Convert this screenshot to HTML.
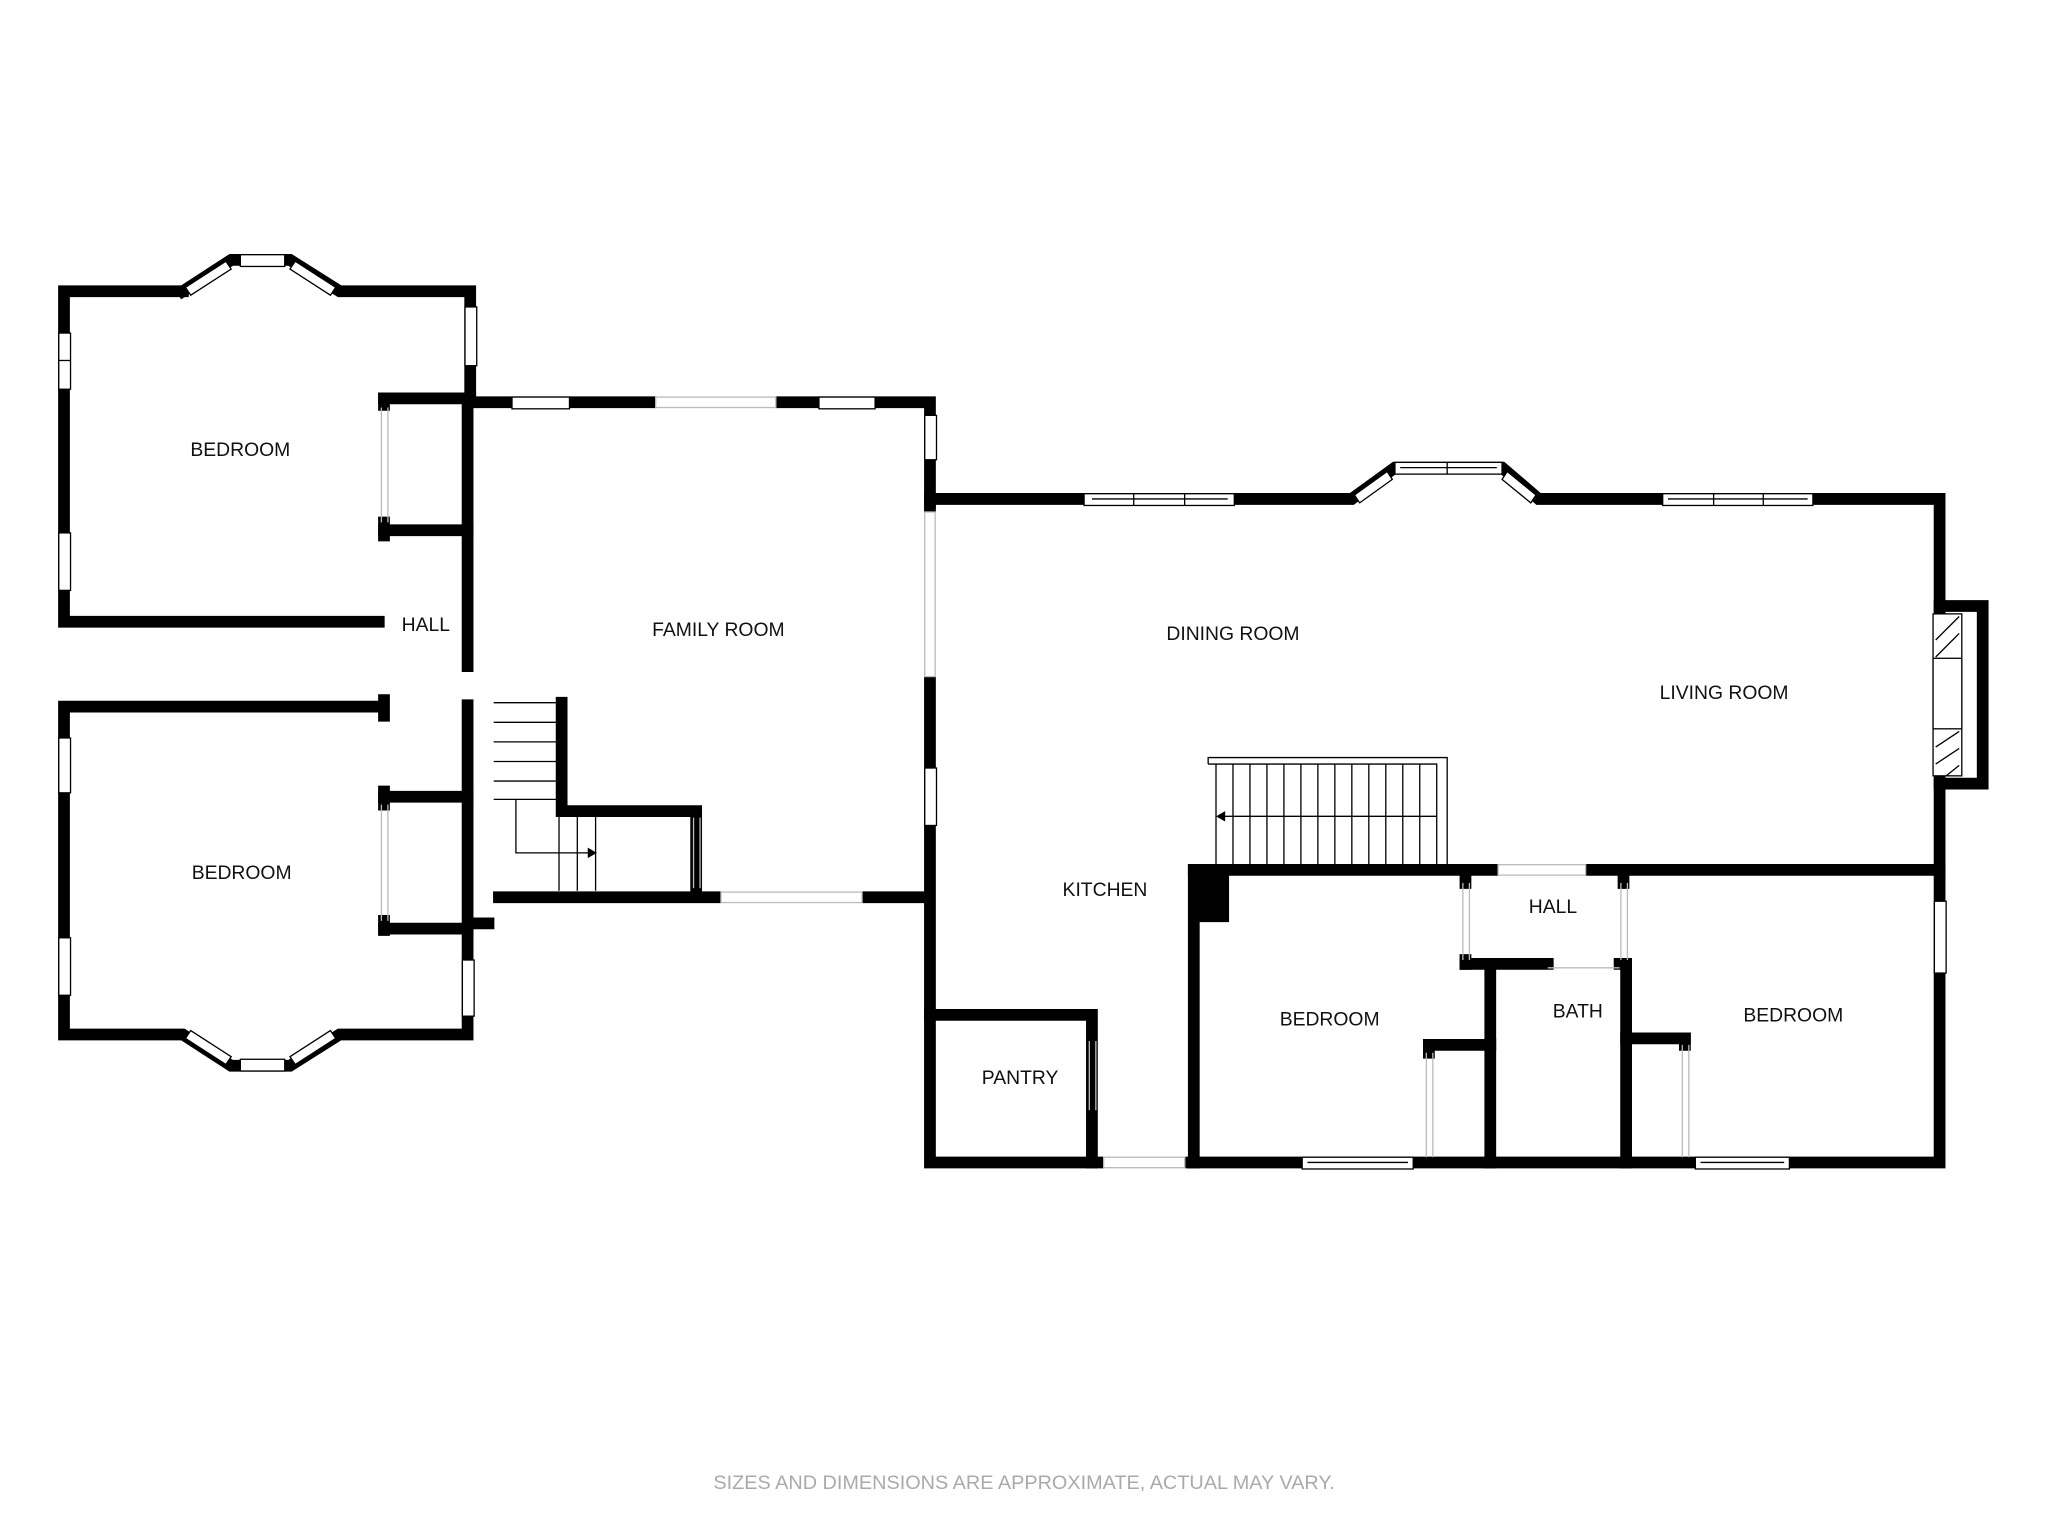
<!DOCTYPE html>
<html><head><meta charset="utf-8"><style>
html,body{margin:0;padding:0;background:#fff}
svg{display:block}
text{font-family:"Liberation Sans",sans-serif;font-size:14.8px;fill:#111;text-anchor:middle}
</style></head><body>
<svg width="2048" height="1536" viewBox="0 0 1568 1176" xmlns="http://www.w3.org/2000/svg">
<g stroke="#000" stroke-width="9" fill="none" stroke-linecap="square" stroke-linejoin="miter">
<polyline points="140,223 49,223 49,476 290,476"/>
<polyline points="140,223 177,199 222,199 260,223 360,223 360,305"/>
<line x1="294" y1="305" x2="360" y2="305"/>
<line x1="294" y1="406" x2="358" y2="406"/>
<line x1="294" y1="305" x2="294" y2="310"/>
<line x1="294" y1="400" x2="294" y2="410"/>
<line x1="358" y1="305" x2="358" y2="510"/>
<line x1="358" y1="540" x2="358" y2="710"/>
<polyline points="290,541 49,541 49,792 140,792 177,816 222,816 260,792 358,792 358,712"/>
<line x1="294" y1="536" x2="294" y2="548"/>
<line x1="294" y1="606" x2="294" y2="616"/>
<line x1="294" y1="705" x2="294" y2="712"/>
<line x1="294" y1="610" x2="358" y2="610"/>
<line x1="294" y1="711" x2="358" y2="711"/>
<line x1="360" y1="707" x2="374" y2="707"/>
<polyline points="364,308 712,308 712,385"/>
<line x1="382" y1="687" x2="708" y2="687"/>
<polyline points="430,538 430,621 533,621 533,682"/>
<polyline points="712,385 712,890 842,890"/>
<polyline points="712,382 1035,382 1068,358 1150,358 1178,382 1485,382 1485,890 912,890"/>
<polyline points="1485,464 1518,464 1518,600 1485,600"/>
<polyline points="712,777 836,777 836,890"/>
<line x1="914" y1="666" x2="1145" y2="666"/>
<line x1="1214" y1="666" x2="1485" y2="666"/>
<line x1="914" y1="666" x2="914" y2="890"/>
<line x1="1122" y1="666" x2="1122" y2="676"/>
<line x1="1243" y1="666" x2="1243" y2="676"/>
<line x1="1122" y1="735" x2="1122" y2="738"/>
<line x1="1122" y1="738" x2="1185" y2="738"/>
<line x1="1240" y1="738" x2="1245" y2="738"/>
<line x1="1141" y1="738" x2="1141" y2="890"/>
<line x1="1245" y1="738" x2="1245" y2="890"/>
<line x1="1094" y1="800" x2="1141" y2="800"/>
<line x1="1094" y1="800" x2="1094" y2="806"/>
<line x1="1245" y1="795" x2="1290" y2="795"/>
<line x1="1290" y1="795" x2="1290" y2="800"/>
</g>
<rect x="911" y="662" width="30" height="44" fill="#000"/>
<g fill="#fff">
<rect x="502" y="302" width="92" height="12"/>
<rect x="706" y="392" width="12" height="126"/>
<rect x="552" y="681" width="108" height="12"/>
<rect x="845" y="884" width="62" height="12"/>
<rect x="1147" y="660" width="67" height="12"/>
</g>
<g fill="none" stroke="#bbb" stroke-width="1">
<rect x="502" y="304" width="92" height="8"/>
<rect x="708" y="392" width="8" height="126"/>
<rect x="552" y="683" width="108" height="8"/>
<rect x="845" y="886" width="62" height="8"/>
<rect x="1147" y="662" width="67" height="8"/>
<line x1="292" y1="312" x2="292" y2="400"/><line x1="297" y1="312" x2="297" y2="400"/>
<line x1="292" y1="616" x2="292" y2="705"/><line x1="297" y1="616" x2="297" y2="705"/>
<line x1="1120" y1="676" x2="1120" y2="735"/><line x1="1125" y1="676" x2="1125" y2="735"/>
<line x1="1241" y1="676" x2="1241" y2="735"/><line x1="1246" y1="676" x2="1246" y2="735"/>
<line x1="1185" y1="741" x2="1240" y2="741"/>
<line x1="1092" y1="806" x2="1092" y2="886"/><line x1="1097" y1="806" x2="1097" y2="886"/>
<line x1="1288" y1="800" x2="1288" y2="886"/><line x1="1293" y1="800" x2="1293" y2="886"/>
<line x1="834" y1="797" x2="834" y2="850"/><line x1="839" y1="797" x2="839" y2="850"/>
<line x1="531" y1="626" x2="531" y2="680"/><line x1="536" y1="626" x2="536" y2="680"/>
</g>
<g fill="#fff" stroke="#000" stroke-width="1">
<rect x="45" y="255" width="9" height="43"/><rect x="45" y="408" width="9" height="44"/>
<rect x="356" y="235" width="9" height="45"/>
<rect x="45" y="565" width="9" height="42"/><rect x="45" y="718" width="9" height="44"/>
<rect x="354" y="735" width="9" height="43"/>
<rect x="392" y="304" width="44" height="9"/><rect x="627" y="304" width="43" height="9"/>
<rect x="708" y="318" width="9" height="34"/>
<rect x="708" y="588" width="9" height="44"/>
<rect x="830" y="378" width="115" height="9"/>
<rect x="1068" y="354" width="82" height="9"/>
<rect x="1273" y="378" width="115" height="9"/>
<rect x="1481" y="690" width="9" height="55"/>
<rect x="997" y="886" width="85" height="9"/>
<rect x="1298" y="886" width="72" height="9"/>
<rect x="184" y="195" width="34" height="9"/><rect x="184" y="811" width="34" height="9"/>
<rect x="1480" y="470" width="22" height="124"/>
</g>
<g stroke="#000" stroke-width="1">
<line x1="45" y1="276" x2="54" y2="276"/><line x1="836" y1="382" x2="940" y2="382"/>
<line x1="1072" y1="358" x2="1146" y2="358"/><line x1="1277" y1="382" x2="1384" y2="382"/>
<line x1="1001" y1="890" x2="1078" y2="890"/><line x1="1302" y1="890" x2="1366" y2="890"/>
<line x1="868" y1="378" x2="868" y2="387"/><line x1="907" y1="378" x2="907" y2="387"/>
<line x1="1108" y1="354" x2="1108" y2="363"/><line x1="1312" y1="378" x2="1312" y2="387"/><line x1="1350" y1="378" x2="1350" y2="387"/>
</g>
<g fill="#fff" stroke="#000" stroke-width="1">
<polygon points="142,220 173,200 177,206 146,226"/>
<polygon points="226,200 257,220 253,226 222,206"/>
<polygon points="142,795 173,815 177,809 146,789"/>
<polygon points="226,815 257,795 253,789 222,809"/>
<polygon points="1037,379 1062,361 1066,367 1041,385"/>
<polygon points="1154,361 1176,379 1172,385 1150,367"/>
</g>
<rect x="1480" y="504" width="22" height="54" fill="#fff" stroke="#000" stroke-width="1"/>
<g stroke="#000" stroke-width="1">
<line x1="1482" y1="490" x2="1500" y2="472"/><line x1="1482" y1="503" x2="1500" y2="485"/>
<line x1="1482" y1="572" x2="1500" y2="560"/><line x1="1482" y1="585" x2="1500" y2="573"/>
<line x1="1490" y1="594" x2="1500" y2="586"/>
</g>
<g stroke="#000" stroke-width="1" fill="none">
<polyline points="378,538 428,538 428,622"/>
<line x1="378" y1="553" x2="428" y2="553"/><line x1="378" y1="568" x2="428" y2="568"/>
<line x1="378" y1="583" x2="428" y2="583"/><line x1="378" y1="598" x2="428" y2="598"/>
<line x1="378" y1="612" x2="428" y2="612"/>
<polyline points="395,612 395,653 452,653"/>
<line x1="428" y1="625" x2="428" y2="682"/><line x1="442" y1="625" x2="442" y2="682"/><line x1="456" y1="625" x2="456" y2="682"/>
<polyline points="925,585 925,580 1108,580 1108,664"/>
<polyline points="925,585 1100,585 1100,664"/>
<line x1="931" y1="585" x2="931" y2="664"/>
<line x1="944" y1="585" x2="944" y2="664"/><line x1="957" y1="585" x2="957" y2="664"/>
<line x1="970" y1="585" x2="970" y2="664"/><line x1="983" y1="585" x2="983" y2="664"/>
<line x1="996" y1="585" x2="996" y2="664"/><line x1="1009" y1="585" x2="1009" y2="664"/>
<line x1="1022" y1="585" x2="1022" y2="664"/><line x1="1035" y1="585" x2="1035" y2="664"/>
<line x1="1048" y1="585" x2="1048" y2="664"/><line x1="1061" y1="585" x2="1061" y2="664"/>
<line x1="1074" y1="585" x2="1074" y2="664"/><line x1="1087" y1="585" x2="1087" y2="664"/>
<line x1="936" y1="625" x2="1100" y2="625"/>
</g>
<polygon points="931,625 938,621 938,629" fill="#000"/>
<polygon points="457,653 450,649 450,657" fill="#000"/>
<text x="184" y="349">BEDROOM</text>
<text x="326" y="483">HALL</text>
<text x="185" y="673">BEDROOM</text>
<text x="550" y="487">FAMILY ROOM</text>
<text x="944" y="490">DINING ROOM</text>
<text x="1320" y="535">LIVING ROOM</text>
<text x="846" y="686">KITCHEN</text>
<text x="781" y="830">PANTRY</text>
<text x="1018" y="785">BEDROOM</text>
<text x="1189" y="699">HALL</text>
<text x="1208" y="779">BATH</text>
<text x="1373" y="782">BEDROOM</text>
<text x="784" y="1140" style="fill:#aaa;font-size:15.2px">SIZES AND DIMENSIONS ARE APPROXIMATE, ACTUAL MAY VARY.</text>
</svg>
</body></html>
